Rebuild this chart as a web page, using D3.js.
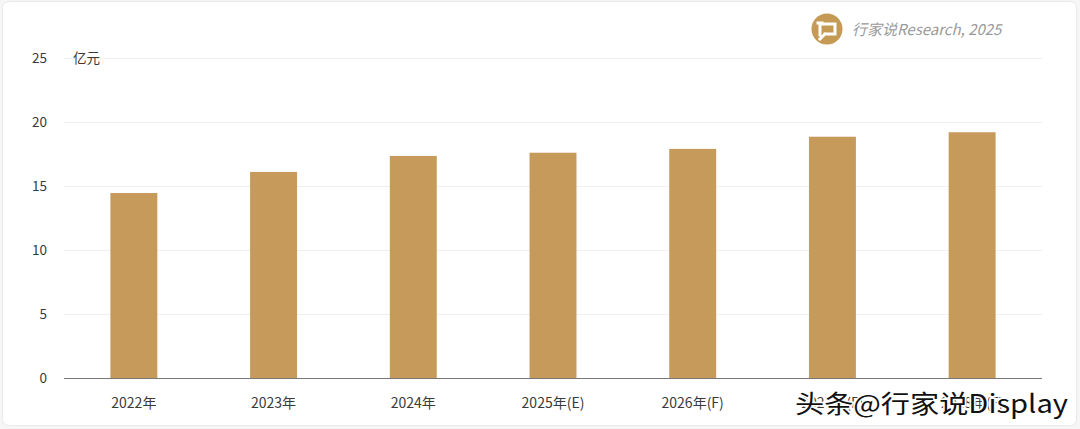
<!DOCTYPE html>
<html><head><meta charset="utf-8">
<script src="https://cdn.jsdelivr.net/npm/d3@7"></script>
<style>
html,body{margin:0;padding:0;background:#f6f6f6;}
svg{display:block;}
</style></head>
<body>
<svg id="c" width="1080" height="429"></svg>
<script>
const categories = ["2022年","2023年","2024年","2025年(E)","2026年(F)","2027年(F)","2028年(F)"];
const values = [14.45, 16.1, 17.35, 17.6, 17.9, 18.85, 19.2];
const yTicks = [0,5,10,15,20,25];
const unitLabel = "亿元";
const sourceText = "行家说Research, 2025";
const watermark = "头条@行家说Display";

(function(){
const svg = d3.select("#c");
const font = "'Noto Sans CJK SC','Noto Sans',sans-serif";

// card
svg.append("rect").attr("x",2.5).attr("y",1.5).attr("width",1074).attr("height",424)
  .attr("rx",6).attr("fill","#fff").attr("stroke","#e9e9e9");

const mLeft = 64, mRight = 1042, mTop = 58, mBottom = 378;
const x = d3.scaleBand().domain(categories).range([mLeft,mRight]).padding(0);
const y = d3.scaleLinear().domain([0,25]).range([mBottom,mTop]);

// grid
svg.append("g").selectAll("line").data(yTicks.filter(d=>d>0)).join("line")
  .attr("x1",mLeft).attr("x2",mRight).attr("y1",d=>y(d)+0.5).attr("y2",d=>y(d)+0.5)
  .attr("stroke","#f0f0f0").attr("stroke-width",1);

// y labels
svg.append("g").selectAll("text").data(yTicks).join("text")
  .attr("x",47).attr("y",d=>y(d)).attr("dy","0.35em").attr("text-anchor","end")
  .attr("font-family",font).attr("font-size",13.5).attr("fill","#3a3a3a").text(d=>d);

svg.append("text").attr("x",73).attr("y",y(25)).attr("dy","0.35em")
  .attr("font-family",font).attr("font-size",13.5).attr("fill","#3a3a3a").text(unitLabel);

// bars
const bw = x.bandwidth()*0.336;
svg.append("g").selectAll("rect").data(values).join("rect")
  .attr("x",(d,i)=>x(categories[i])+x.bandwidth()/2-bw/2)
  .attr("width",bw)
  .attr("y",d=>y(d)).attr("height",d=>y(0)-y(d))
  .attr("fill","#c69a5a");

// axis line
svg.append("line").attr("x1",mLeft).attr("x2",mRight).attr("y1",mBottom+0.5).attr("y2",mBottom+0.5)
  .attr("stroke","#777").attr("stroke-width",1.2);

// x labels
svg.append("g").selectAll("text").data(categories).join("text")
  .attr("x",d=>x(d)+x.bandwidth()/2).attr("y",403).attr("dy","0.35em").attr("text-anchor","middle")
  .attr("font-family",font).attr("font-size",14).attr("fill","#3a3a3a").text(d=>d);

// logo
const lg = svg.append("g").attr("transform","translate(827,29)");
lg.append("circle").attr("r",15.5).attr("fill","#c49a55");
lg.append("path").attr("d","M-9,-6 L-5,-6 M-7,-6 L-7,6 M-4,-5 L8,-5 L8,5 L-2,5 M-2,5 L-7,10")
  .attr("stroke","#fff").attr("stroke-width",3).attr("fill","none").attr("stroke-linecap","square");
svg.append("text").attr("x",852).attr("y",30).attr("dy","0.35em")
  .attr("font-family",font).attr("font-size",15).attr("font-style","italic").attr("fill","#9a9a9a")
  .text(sourceText);

// watermark
svg.append("text").attr("x",795).attr("y",404).attr("dy","0.35em")
  .attr("font-family","'Noto Sans CJK SC',sans-serif").attr("font-size",25)
  .attr("fill","#111").attr("stroke","#fff").attr("stroke-width",3).attr("paint-order","stroke")
  .attr("textLength",273).attr("lengthAdjust","spacingAndGlyphs")
  .text(watermark);
})();
</script>
</body></html>
